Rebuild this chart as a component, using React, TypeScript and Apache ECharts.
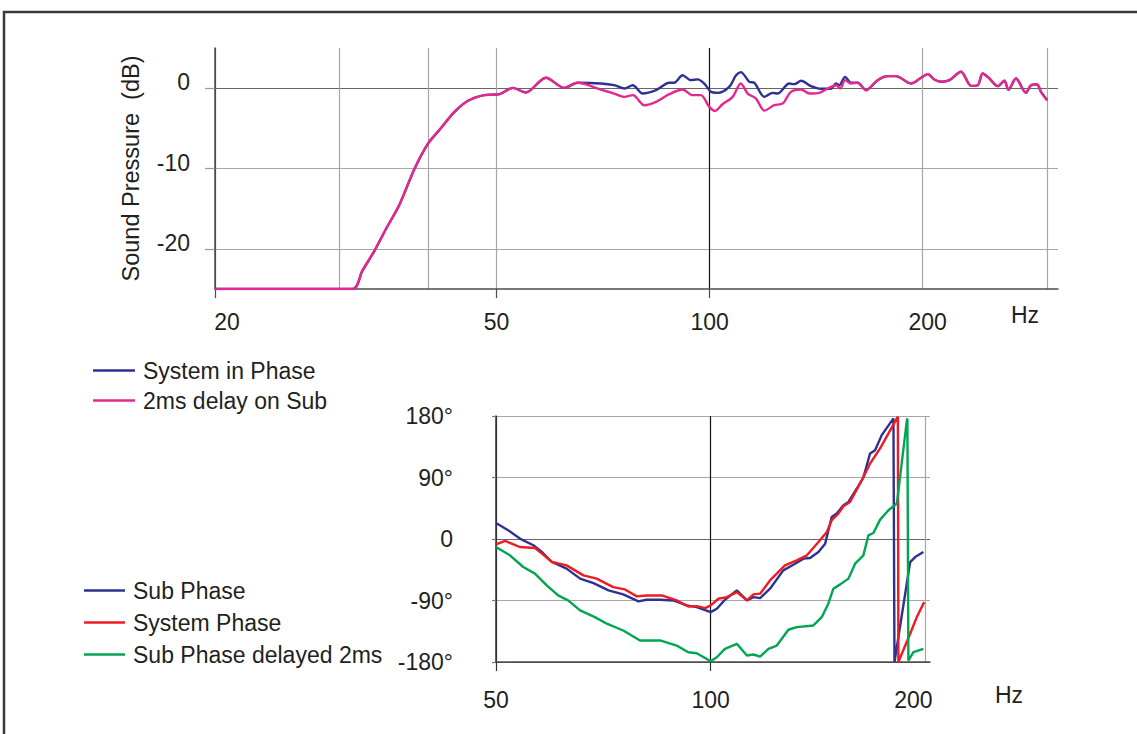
import React, { useEffect, useRef } from "react";
import * as echarts from "echarts";

// ---------- Top chart: sound pressure (dB) vs frequency (Hz) ----------
const riseFreq = [20, 31.3, 32.3, 33.6, 34.9, 36.4, 38.3, 40.0, 41.7, 43.6, 45.5, 48.0, 50.5, 52.7, 55.0, 58.7, 62.3, 65.1];
const riseDb = [-25, -25, -22.75, -20.25, -17.5, -14.6, -10, -6.9, -5, -2.96, -1.6, -0.87, -0.75, 0.04, -0.54, 1.3, 0.04, 0.67];

const inPhaseMidFreq = [70.2, 73.3, 75.8, 77.9, 80.4, 84.0, 87.7, 89.1, 91.6, 94.1, 96.2, 98.3, 100.5, 102.7, 106.6, 109.0, 110.7, 113.8, 115.7, 119.5, 122.8, 124.8, 129.6, 131.8, 134.7, 139.1, 143.7, 148.4, 150.9, 152.5, 155.4, 158.4];
const inPhaseMidDb = [0.58, 0.37, -0.04, 0.37, -0.67, -0.25, 0.67, 0.67, 1.6, 1.0, 1.1, 0.58, -0.46, -0.58, 0.17, 1.6, 2.0, 0.79, 0.67, -1.08, -0.58, -0.67, 0.58, 0.5, 0.92, 0.25, -0.08, -0.08, 0.58, 0.37, 1.4, 0.67];

const delayMidFreq = [70.2, 73.3, 75.8, 77.9, 80.9, 84.0, 87.7, 91.6, 94.6, 97.2, 99.9, 101.8, 104.3, 107.8, 110.7, 113.2, 116.3, 119.5, 123.4, 126.9, 130.3, 134.7, 138.4, 142.9, 148.4, 150.9, 153.0, 155.4, 158.4];
const delayMidDb = [-0.17, -0.67, -1.08, -0.87, -2.12, -1.7, -0.75, -0.17, -0.87, -0.87, -2.33, -2.83, -2.0, -1.08, 0.58, -0.67, -1.3, -2.8, -2.12, -1.9, -0.46, -0.17, -0.67, -0.58, 0.17, 0.37, -0.04, 1.0, 0.58];

const tailFreq = [161.9, 166.4, 172.8, 178.6, 183.4, 192.6, 199.0, 203.3, 207.8, 212.4, 218.2, 226.6, 234.2, 239.3, 243.2, 248.6, 255.4, 261.0, 264.4, 271.0, 280.0, 284.6, 290.2, 294.0, 300];
const tailDb = [0.67, -0.25, 1.0, 1.5, 1.5, 0.58, 1.3, 1.75, 1.08, 0.79, 1.0, 2.04, 0.29, 0.37, 1.83, 1.2, 0.25, 0.92, -0.2, 1.2, -0.58, 0.37, 0.46, -0.46, -1.5];

const topGridHz = [20, 30, 40, 50, 100, 200, 300];
const topLabelHz = [20, 50, 100, 200];
const topTickHz = [20, 50, 100];
const topDbTicks = [-20, -10, 0];

// ---------- Bottom chart: phase (degrees) vs frequency (Hz) ----------
const subPhaseFreq = [50, 52.0, 54.0, 56.4, 58.0, 59.9, 62.8, 65.6, 68.5, 71.9, 75.4, 79.2, 81.3, 84.9, 88.6, 92.6, 95.6, 100, 102.0, 104.7, 108.8, 112.4, 114.8, 117.3, 121.1, 126.4, 131.3, 134.9, 137.8, 141.6, 144.7, 147.8, 150.2, 153.5, 156.0, 160.3, 163.7, 167.3, 170.0, 173.7, 180.4, 181.0, 190.4, 193.5, 198.7];
const subPhaseDeg = [23.5, 12.8, 0.6, -9.2, -19, -33.7, -43.4, -58, -64.5, -75.2, -81, -91.3, -88.9, -88.9, -89.9, -97.2, -99.7, -107, -102, -88.9, -75.2, -89.9, -85, -86.5, -72.7, -45.9, -36.1, -28.7, -27.9, -19, -6.8, 32.3, 37.2, 49.4, 54.3, 73.9, 90, 125.2, 130, 152, 176.5, -180, -33.7, -26.4, -19];

const systemPhaseFreq = [50, 51.5, 54.0, 56.7, 58.0, 59.9, 62.8, 66.3, 69.2, 73.0, 75.8, 78.8, 81.3, 85.4, 89.6, 93.0, 95.6, 98.2, 100, 102.5, 105.3, 108.8, 112.4, 114.8, 117.3, 121.1, 127.1, 132.0, 136.4, 141.6, 145.5, 147.8, 151.0, 153.5, 156.8, 162.9, 167.3, 172.8, 182.4, 183.0, 183.3, 190.4, 194.5, 199.2];
const systemPhaseDeg = [-7.8, -2.9, -11.7, -13.2, -21.4, -33.7, -38.6, -53.2, -58, -70.4, -73.8, -84, -82.6, -82.6, -89.9, -98.7, -98.2, -101.2, -97.2, -87.4, -85, -77.7, -89.9, -81, -80, -60.6, -38.6, -31.2, -23.9, -4.4, 10.3, 27.4, 37.2, 48, 54.3, 86, 110.5, 132.6, 176.5, 179, -180, -138.7, -114.4, -92.4];

const delayedFreq = [50, 52.3, 54.6, 56.7, 58.9, 61.1, 63.1, 65.6, 68.8, 71.5, 75.4, 79.6, 84.9, 89.6, 93.0, 95.6, 100, 102.0, 104.7, 108.8, 112.4, 114.8, 117.3, 120.5, 123.8, 128.5, 132.0, 139.3, 143.1, 146.2, 148.6, 151.9, 156.0, 159.4, 163.7, 166.4, 169.1, 172.8, 177.5, 182.4, 188.4, 188.7, 189.3, 192.4, 198.7];
const delayedDeg = [-11.7, -23.9, -41, -50.7, -67.9, -82.6, -89.9, -104.5, -114.4, -124, -133.9, -148.5, -148.5, -155.9, -165.7, -167.2, -178.9, -173, -160.7, -153.4, -170.5, -169, -172, -160.7, -155.9, -132.8, -129, -126.5, -114.4, -94.7, -72.7, -66.4, -58, -36.1, -23.9, 5.4, 8.8, 28.4, 42.1, 51.9, 174, 176.5, -177.9, -165.7, -160.7];

const bottomGridHz = [50, 100, 200];
const bottomTickHz = [50, 100];
const phaseTicks = [-180, -90, 0, 90, 180];

// ---------- helpers ----------
const L = (f: number) => Math.log10(f);
const pts = (fs: number[], vs: number[]) => fs.map((f, i) => [L(f), vs[i]]);

const FONT = "'Liberation Sans', Arial, Helvetica, sans-serif";
const INK = "#231f20";
const NAVY = "#2e3192";
const PINK = "#e6288e";
const RED = "#ed1c24";
const GREEN = "#00a651";
const GRID = "#a6a6a6";
const FS = 23;

export default function App() {
  const ref = useRef<HTMLDivElement>(null);

  useEffect(() => {
    if (!ref.current) return;
    const chart = echarts.init(ref.current, undefined, { renderer: "svg" });

    const labelBase = { color: INK, fontSize: FS, fontFamily: FONT };

    const option: any = {
      animation: false,
      backgroundColor: "#ffffff",
      textStyle: { fontFamily: FONT },
      grid: [
        { left: 215, top: 48, width: 843, height: 241 },
        { left: 496, top: 416, width: 434, height: 246 },
      ],
      xAxis: [
        {
          type: "value",
          gridIndex: 0,
          min: L(20),
          max: L(20) + 843 / 707.6,
          axisLine: { show: true, onZero: false, lineStyle: { color: "#4d4d4d", width: 1.5 } },
          axisTick: { show: false, customValues: topGridHz.map(L) },
          axisLabel: {
            ...labelBase,
            margin: 21,
            customValues: topLabelHz.map(L),
            formatter: (v: number) => {
              const f = Math.round(Math.pow(10, v));
              if (f === 20) return "{l|20}";
              if (f === 200) return "{r|200}";
              return String(f);
            },
            rich: {
              l: { ...labelBase, padding: [0, 0, 0, 24] },
              r: { ...labelBase, padding: [0, 0, 0, 10] },
            },
          },
          splitLine: {
            show: true,
            lineStyle: { color: ["#4d4d4d", GRID, GRID, GRID, "#111111", GRID, GRID], width: 1.2 },
          },
        },
        {
          type: "value",
          gridIndex: 0,
          position: "bottom",
          min: L(20),
          max: L(20) + 843 / 707.6,
          axisLine: { show: false, onZero: false },
          axisTick: { show: true, length: 9, customValues: topTickHz.map(L), lineStyle: { color: "#4d4d4d", width: 1.2 } },
          axisLabel: { show: false },
          splitLine: { show: false },
        },
        {
          type: "value",
          gridIndex: 1,
          min: L(50),
          max: L(200) + 4.6 / 713.2,
          axisLine: { show: true, onZero: false, lineStyle: { color: "#4d4d4d", width: 1.5 } },
          axisTick: { show: false, customValues: bottomGridHz.map(L) },
          axisLabel: {
            ...labelBase,
            margin: 26,
            customValues: bottomGridHz.map(L),
            formatter: (v: number) => {
              const f = Math.round(Math.pow(10, v));
              if (f === 200) return "{b|200}";
              return String(f);
            },
            rich: {
              b: { ...labelBase, padding: [0, 24, 0, 0] },
            },
          },
          splitLine: {
            show: true,
            lineStyle: { color: ["#333333", "#111111", GRID], width: 1.2 },
          },
        },
        {
          type: "value",
          gridIndex: 1,
          position: "bottom",
          min: L(50),
          max: L(200) + 4.6 / 713.2,
          axisLine: { show: false, onZero: false },
          axisTick: { show: true, length: 9, customValues: bottomTickHz.map(L), lineStyle: { color: "#333333", width: 1.2 } },
          axisLabel: { show: false },
          splitLine: { show: false },
        },
      ],
      yAxis: [
        {
          type: "value",
          gridIndex: 0,
          min: -25,
          max: 5,
          name: "Sound Pressure  (dB)",
          nameLocation: "middle",
          nameRotate: 90,
          nameGap: 72,
          nameTextStyle: { ...labelBase, fontSize: 23.5 },
          axisLine: { show: true, onZero: false, lineStyle: { color: "#4d4d4d", width: 1.5 } },
          axisTick: { show: true, length: 10, customValues: topDbTicks, lineStyle: { color: "#999999", width: 1.2 } },
          axisLabel: {
            ...labelBase,
            margin: 25,
            customValues: topDbTicks,
            formatter: (v: number) => "{u|" + v + "}",
            rich: {
              u: { ...labelBase, padding: [0, 0, 12, 0] },
            },
          },
          splitLine: {
            show: true,
            lineStyle: { color: [GRID, GRID, "#666666"], width: 1.2 },
          },
        },
        {
          type: "value",
          gridIndex: 1,
          min: -180,
          max: 180,
          axisLine: { show: true, onZero: false, lineStyle: { color: "#333333", width: 1.5 } },
          axisTick: { show: true, length: 4, customValues: phaseTicks, lineStyle: { color: "#777777", width: 1.2 } },
          axisLabel: {
            ...labelBase,
            margin: 43,
            customValues: phaseTicks,
            formatter: (v: number) => (v === 0 ? "0" : v + "°"),
          },
          splitLine: {
            show: true,
            lineStyle: { color: ["#555555", GRID, "#666666", GRID, GRID], width: 1.2 },
          },
        },
      ],
      legend: [
        {
          data: ["System in Phase", "2ms delay on Sub"],
          orient: "vertical",
          left: 88,
          top: 354,
          icon: "rect",
          itemWidth: 42,
          itemHeight: 2.5,
          itemGap: 7,
          selectedMode: false,
          textStyle: { ...labelBase, padding: [0, 0, 0, 3] },
        },
        {
          data: ["Sub Phase", "System Phase", "Sub Phase delayed 2ms"],
          orient: "vertical",
          left: 79,
          top: 574,
          icon: "rect",
          itemWidth: 41,
          itemHeight: 2.5,
          itemGap: 9,
          selectedMode: false,
          textStyle: { ...labelBase, padding: [0, 0, 0, 3] },
        },
      ],
      graphic: [
        {
          type: "rect",
          shape: { x: 4, y: 12, width: 1300, height: 1000 },
          style: { fill: "none", stroke: "#3a3a3a", lineWidth: 2.5 },
          silent: true,
        },
        {
          type: "text",
          x: 1025,
          y: 315,
          style: { text: "Hz", fill: INK, fontSize: FS, fontFamily: FONT, align: "center", verticalAlign: "middle" },
        },
        {
          type: "text",
          x: 1009,
          y: 695,
          style: { text: "Hz", fill: INK, fontSize: FS, fontFamily: FONT, align: "center", verticalAlign: "middle" },
        },
      ],
      series: [
        {
          name: "System in Phase",
          type: "line",
          xAxisIndex: 0,
          yAxisIndex: 0,
          data: [...pts(riseFreq, riseDb), ...pts(inPhaseMidFreq, inPhaseMidDb), ...pts(tailFreq, tailDb)],
          symbol: "none",
          smooth: 0.3,
          color: NAVY,
          lineStyle: { color: NAVY, width: 2.4 },
        },
        {
          name: "2ms delay on Sub",
          type: "line",
          xAxisIndex: 0,
          yAxisIndex: 0,
          data: [...pts(riseFreq, riseDb), ...pts(delayMidFreq, delayMidDb), ...pts(tailFreq, tailDb)],
          symbol: "none",
          smooth: 0.3,
          color: PINK,
          lineStyle: { color: PINK, width: 2.4 },
        },
        {
          name: "Sub Phase",
          type: "line",
          xAxisIndex: 2,
          yAxisIndex: 1,
          data: pts(subPhaseFreq, subPhaseDeg),
          symbol: "none",
          color: NAVY,
          lineStyle: { color: NAVY, width: 2.4 },
        },
        {
          name: "System Phase",
          type: "line",
          xAxisIndex: 2,
          yAxisIndex: 1,
          data: pts(systemPhaseFreq, systemPhaseDeg),
          symbol: "none",
          color: RED,
          lineStyle: { color: RED, width: 2.4 },
        },
        {
          name: "Sub Phase delayed 2ms",
          type: "line",
          xAxisIndex: 2,
          yAxisIndex: 1,
          data: pts(delayedFreq, delayedDeg),
          symbol: "none",
          color: GREEN,
          lineStyle: { color: GREEN, width: 2.4 },
        },
      ],
    };

    chart.setOption(option);
    return () => chart.dispose();
  }, []);

  return (
    <div
      ref={ref}
      style={{ position: "fixed", left: 0, top: 0, width: "1137px", height: "734px", background: "#fff" }}
    />
  );
}
